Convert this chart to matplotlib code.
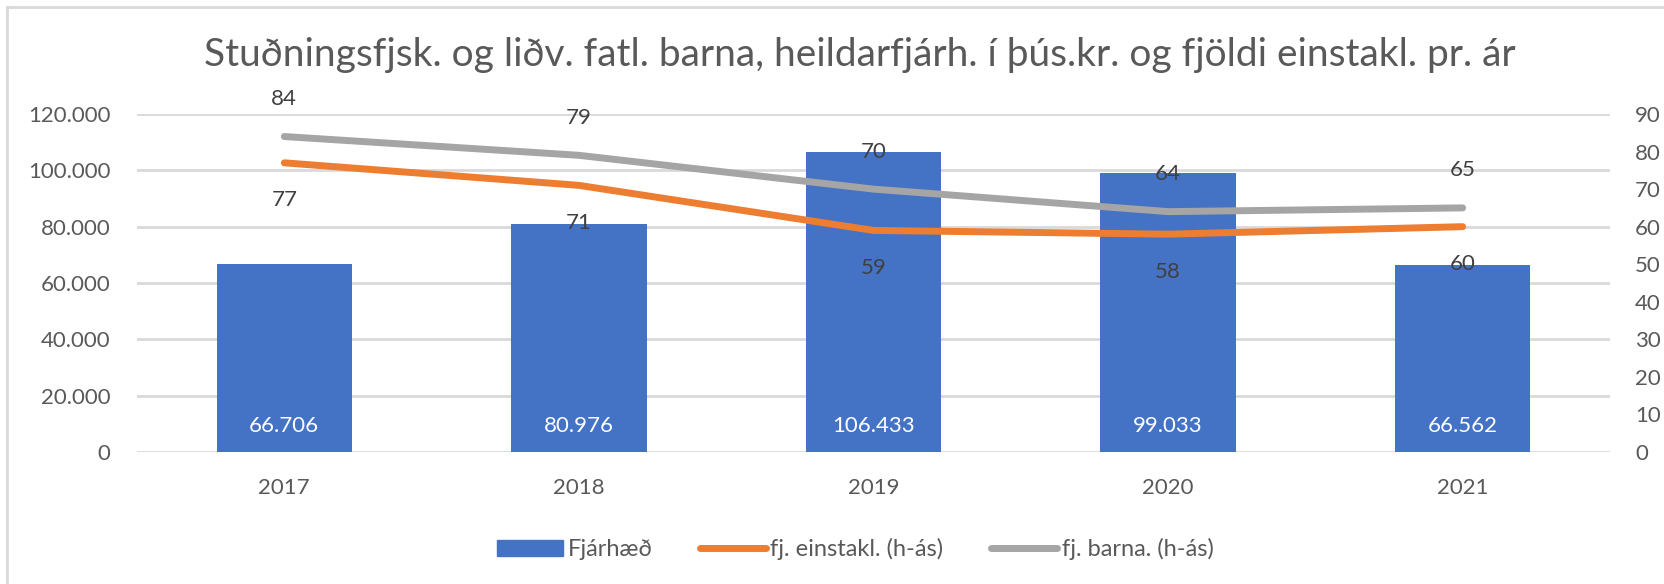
import matplotlib.pyplot as plt
from matplotlib.lines import Line2D
from matplotlib.patches import Patch

years = ['2017', '2018', '2019', '2020', '2021']
fjarhaed = [66706, 80976, 106433, 99033, 66562]
einstakl = [77, 71, 59, 58, 60]
barna = [84, 79, 70, 64, 65]

plt.rcParams['font.family'] = ['Lato', 'DejaVu Sans']
txt = '#595959'

fig = plt.figure(figsize=(16.65, 5.84), dpi=100)
ax = fig.add_axes([137 / 1665, 1 - 452 / 584, (1610 - 137) / 1665, (452 - 114) / 584])
ax2 = ax.twinx()

x = range(len(years))
ax.bar(x, fjarhaed, width=0.46, color='#4472C4', zorder=2)
ax.set_ylim(0, 120000)
ax.set_xlim(-0.5, len(years) - 0.5)
ax.set_yticks(range(0, 120001, 20000))
ax.set_yticklabels([f'{v:,}'.replace(',', '.') for v in range(0, 120001, 20000)])
ax.set_xticks(list(x))
ax.set_xticklabels(years)
ax.grid(axis='y', color='#d9d9d9', linewidth=2)
ax.set_axisbelow(True)
for i, v in enumerate(fjarhaed):
    ax.text(i, 9200, f'{v:,}'.replace(',', '.'), ha='center', va='center',
            color='white', fontsize=16)

ax2.plot(x, einstakl, color='#ED7D31', linewidth=5, solid_capstyle='round', zorder=3)
ax2.plot(x, barna, color='#A5A5A5', linewidth=5, solid_capstyle='round', zorder=3)
ax2.set_ylim(0, 90)
ax2.set_yticks(range(0, 91, 10))
for i, v in enumerate(einstakl):
    ax2.annotate(str(v), (i, v), xytext=(0, -27), textcoords='offset points',
                 ha='center', va='center', color='#404040', fontsize=16)
for i, v in enumerate(barna):
    ax2.annotate(str(v), (i, v), xytext=(0, 27), textcoords='offset points',
                 ha='center', va='center', color='#404040', fontsize=16)

for a in (ax, ax2):
    for s in a.spines.values():
        s.set_visible(False)
    a.tick_params(length=0, labelsize=16, labelcolor=txt)
ax.tick_params(axis='y', pad=19)
ax.tick_params(axis='x', pad=19)
ax2.tick_params(axis='y', pad=18)

fig.text(860 / 1665, 1 - 55 / 584,
         'Stuðningsfjsk. og liðv. fatl. barna, heildarfjárh. í þús.kr. og fjöldi einstakl. pr. ár',
         ha='center', va='center', fontsize=28, color=txt)

handles = [Patch(color='#4472C4'),
           Line2D([], [], color='#ED7D31', linewidth=5, solid_capstyle='round'),
           Line2D([], [], color='#A5A5A5', linewidth=5, solid_capstyle='round')]
labels = ['Fjárhæð', 'fj. einstakl. (h-ás)', 'fj. barna. (h-ás)']
leg = fig.legend(handles, labels, loc='center', bbox_to_anchor=(855 / 1665, 1 - 549 / 584),
                 ncol=3, frameon=False, fontsize=17, handlelength=2.8, handletextpad=0.2,
                 columnspacing=2.0)
for t in leg.get_texts():
    t.set_color(txt)

# outer chart border
fig.add_artist(Line2D([7 / 1665, 7 / 1665], [0, 1 - 7 / 584], color='#d9d9d9', linewidth=2))
fig.add_artist(Line2D([7 / 1665, 1], [1 - 7 / 584, 1 - 7 / 584], color='#d9d9d9', linewidth=2))

fig.savefig('out.png', dpi=100)
